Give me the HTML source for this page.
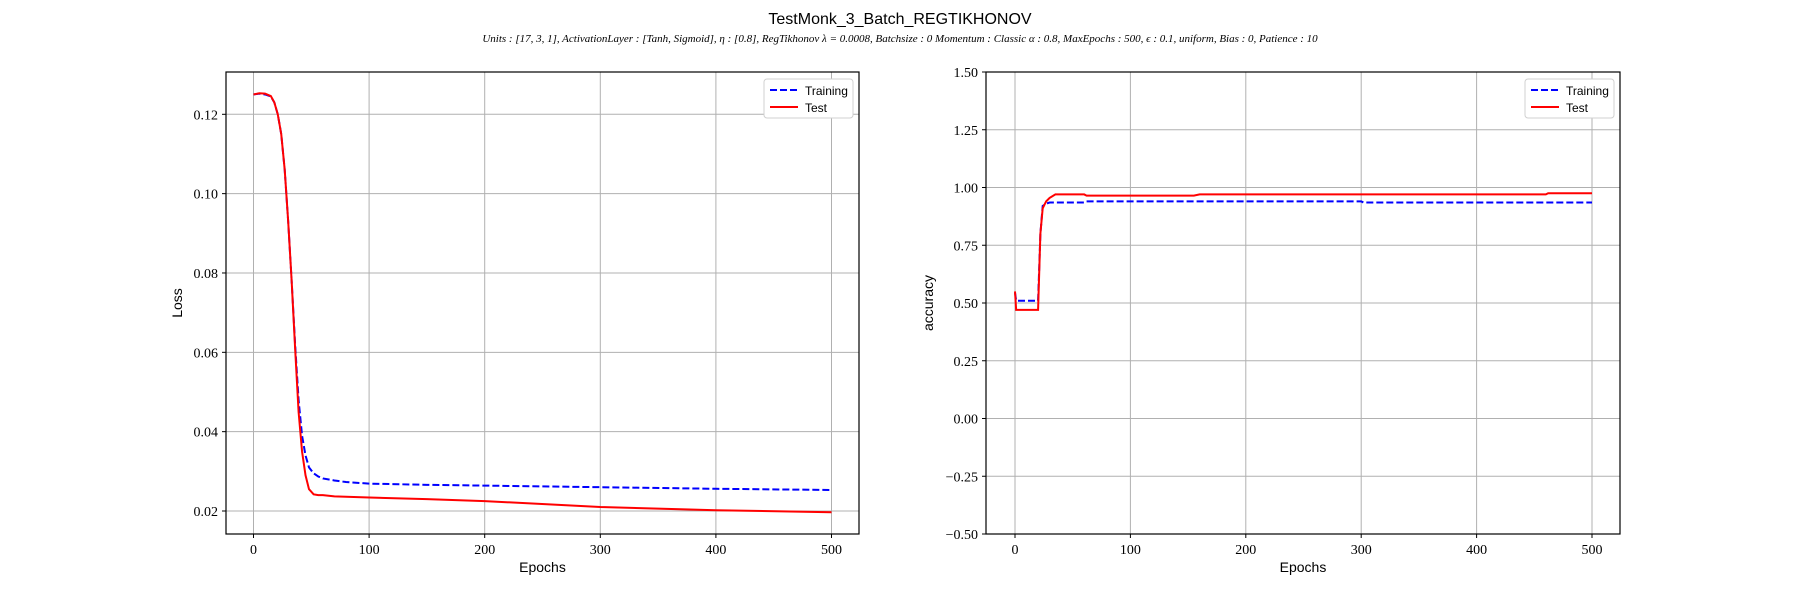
<!DOCTYPE html>
<html><head><meta charset="utf-8"><style>
body{margin:0;background:#fff;width:1800px;height:600px;overflow:hidden}
svg text{fill:#000}
.tick{font-family:"Liberation Serif",serif;font-size:14px}
.lab{font-family:"Liberation Sans",sans-serif;font-size:14px}
</style></head><body>
<svg id="c" width="1800" height="600" xmlns="http://www.w3.org/2000/svg">
<text x="900" y="24" text-anchor="middle" font-family="Liberation Sans,sans-serif" font-size="16">TestMonk_3_Batch_REGTIKHONOV</text>
<text x="900" y="42" text-anchor="middle" font-family="Liberation Serif,serif" font-style="italic" font-size="11">Units : [17, 3, 1], ActivationLayer : [Tanh, Sigmoid], η : [0.8], RegTikhonov λ = 0.0008, Batchsize : 0 Momentum : Classic α : 0.8, MaxEpochs : 500, ϵ : 0.1, uniform, Bias : 0, Patience : 10</text>
</svg>
<script>
const lossEpochs=[0,5,10,15,18,21,24,27,30,33,36,39,42,45,48,52,56,60,70,80,100,150,200,300,400,500];
const lossTrain=[0.125,0.1252,0.125,0.1245,0.123,0.12,0.115,0.106,0.093,0.078,0.062,0.048,0.039,0.034,0.031,0.0295,0.0287,0.0282,0.0277,0.0273,0.0269,0.0266,0.0264,0.026,0.0256,0.0253];
const lossTest=[0.125,0.1253,0.1252,0.1246,0.123,0.12,0.115,0.106,0.093,0.078,0.061,0.045,0.035,0.029,0.0255,0.0242,0.024,0.024,0.0237,0.0236,0.0234,0.023,0.0225,0.021,0.0202,0.0197];
const accEpochs=[0,1,5,10,15,20,22,24,27,30,35,40,50,60,62,65,100,155,160,200,300,302,400,460,462,500];
const accTrain=[0.545,0.51,0.51,0.51,0.51,0.51,0.8,0.92,0.93,0.935,0.935,0.935,0.935,0.935,0.94,0.94,0.94,0.94,0.94,0.94,0.94,0.935,0.935,0.935,0.935,0.935];
const accTest=[0.55,0.47,0.47,0.47,0.47,0.47,0.8,0.91,0.94,0.955,0.97,0.97,0.97,0.97,0.965,0.965,0.965,0.965,0.97,0.97,0.97,0.97,0.97,0.97,0.975,0.975];
const xTicks=[0,100,200,300,400,500];
const lossTicks=[0.02,0.04,0.06,0.08,0.10,0.12];
const accTicks=[-0.5,-0.25,0,0.25,0.5,0.75,1.0,1.25,1.5];
const NS="http://www.w3.org/2000/svg";
const svg=document.getElementById('c');
function mk(t,a,p){const e=document.createElementNS(NS,t);for(const k in a)e.setAttribute(k,a[k]);(p||svg).appendChild(e);return e;}
function panel(o){
 const g=mk('g',{});
 
 
 const X=v=>o.xz+v*o.xs;
 const Y=v=>o.yref-(v-o.vref)*o.ys;
 xTicks.forEach(t=>{
  const l=mk('line',{x1:X(t),x2:X(t),y1:o.y0,y2:o.y1,stroke:'#b0b0b0','stroke-width':1},g);
  
  
  mk('line',{x1:X(t),x2:X(t),y1:o.y1,y2:o.y1+4,stroke:'#000'},g);
  const tx=mk('text',{x:X(t),y:o.y1+20,'text-anchor':'middle',class:'tick'},g);tx.textContent=t;
  
  
 });
 o.yt.forEach(t=>{
  const l=mk('line',{x1:o.x0,x2:o.x1,y1:Y(t),y2:Y(t),stroke:'#b0b0b0','stroke-width':1},g);
  
  
  mk('line',{x1:o.x0-4,x2:o.x0,y1:Y(t),y2:Y(t),stroke:'#000'},g);
  const tx=mk('text',{x:o.x0-8,y:Y(t)+5,'text-anchor':'end',class:'tick'},g);tx.textContent=o.fmt(t);
  
  
 });
 const pts=(xs,ys)=>xs.map((x,i)=>X(x)+','+Y(ys[i])).join(' ');
 const a=mk('polyline',{points:pts(o.ex,o.tr),fill:'none',stroke:'#0000ff','stroke-width':2,'stroke-dasharray':'7,3'},g);
 
 
 const b=mk('polyline',{points:pts(o.ex,o.te),fill:'none',stroke:'#ff0000','stroke-width':2},g);
 
 
 const f=mk('rect',{x:o.x0,y:o.y0,width:o.x1-o.x0,height:o.y1-o.y0,fill:'none',stroke:'#000','stroke-width':1.2},g);
 
 
 const xl=mk('text',{x:(o.x0+o.x1)/2,y:o.y1+38,'text-anchor':'middle',class:'lab'},g);xl.textContent='Epochs';
 
 
 const yx=o.x0-o.ylo, yy=(o.y0+o.y1)/2;
 const yl=mk('text',{x:yx,y:yy,'text-anchor':'middle',class:'lab',transform:`rotate(-90 ${yx} ${yy})`},g);yl.textContent=o.ylabel;
 
 
 const lg=mk('g',{},g);
 
 
 const lx=o.x1-95,ly=o.y0+7;
 mk('rect',{x:lx,y:ly,width:89,height:39,rx:3,fill:'#fff',stroke:'#d0d0d0'},lg);
 mk('line',{x1:lx+6,x2:lx+34,y1:ly+11,y2:ly+11,stroke:'#0000ff','stroke-width':2,'stroke-dasharray':'7,3'},lg);
 mk('line',{x1:lx+6,x2:lx+34,y1:ly+28,y2:ly+28,stroke:'#ff0000','stroke-width':2},lg);
 const t1=mk('text',{x:lx+41,y:ly+16,'font-family':'Liberation Sans,sans-serif','font-size':12},lg);t1.textContent='Training';
 
 
 const t2=mk('text',{x:lx+41,y:ly+33,'font-family':'Liberation Sans,sans-serif','font-size':12},lg);t2.textContent='Test';
 
 
}
panel({name:'loss-chart',x0:226,x1:859,y0:72,y1:534,xz:253.5,xs:1.156,yref:511,vref:0.02,ys:3967,
 yt:lossTicks,fmt:t=>t.toFixed(2),ex:lossEpochs,tr:lossTrain,te:lossTest,ylabel:'Loss',ylo:44});
panel({name:'accuracy-chart',x0:986,x1:1620,y0:72,y1:534,xz:1015,xs:1.154,yref:534,vref:-0.5,ys:231,
 yt:accTicks,fmt:t=>(t<0?'\u2212':'')+Math.abs(t).toFixed(2),ex:accEpochs,tr:accTrain,te:accTest,ylabel:'accuracy',ylo:53});
</script>
</body></html>
